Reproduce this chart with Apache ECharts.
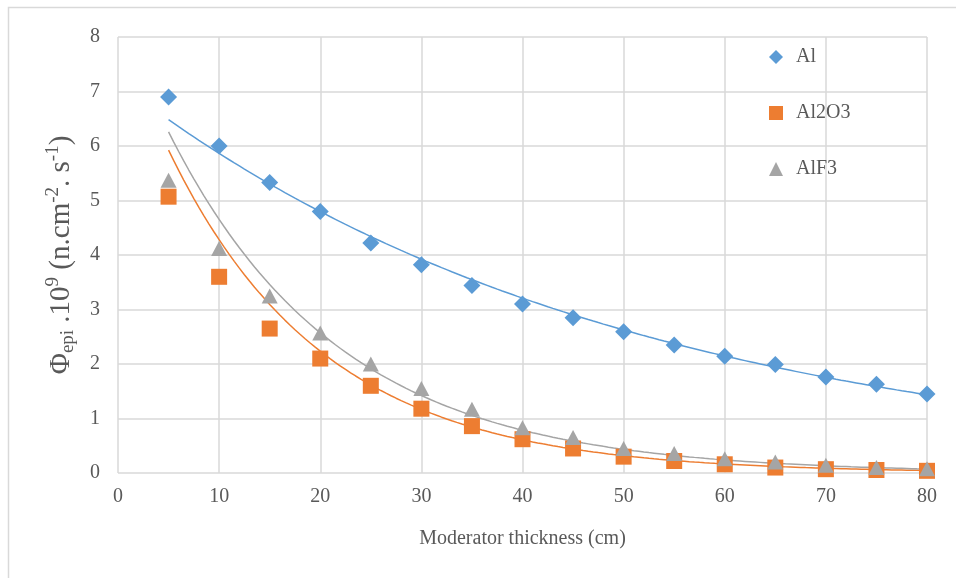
<!DOCTYPE html>
<html>
<head>
<meta charset="utf-8">
<script src="https://cdn.jsdelivr.net/npm/echarts@6/dist/echarts.min.js"></script>
<style>
html,body{margin:0;padding:0;background:#fff;}
#c{width:956px;height:578px;}
</style>
</head>
<body>
<div id="c"></div>
<script>
// ---- data ----
var thickness = [5, 10, 15, 20, 25, 30, 35, 40, 45, 50, 55, 60, 65, 70, 75, 80];
var fluxAl    = [6.9, 6.0, 5.33, 4.8, 4.22, 3.82, 3.44, 3.1, 2.85, 2.59, 2.35, 2.14, 1.99, 1.76, 1.63, 1.45];
var fluxAl2O3 = [5.07, 3.6, 2.65, 2.1, 1.6, 1.18, 0.86, 0.62, 0.45, 0.3, 0.22, 0.16, 0.1, 0.07, 0.055, 0.04];
var fluxAlF3  = [5.37, 4.12, 3.25, 2.57, 2.0, 1.55, 1.17, 0.83, 0.65, 0.45, 0.36, 0.26, 0.2, 0.14, 0.1, 0.08];
var seriesNames = ['Al', 'Al2O3', 'AlF3'];
// exponential trendlines y = A * exp(B * x), coefficients
var trendA = [7.17, 8.2, 8.42];
var trendB = [-0.0201, -0.065, -0.0593];
var xTicks = [0, 10, 20, 30, 40, 50, 60, 70, 80];
var yTicks = [0, 1, 2, 3, 4, 5, 6, 7, 8];

function expTrend(xs, A, B) {
  var pts = [], x0 = xs[0], x1 = xs[xs.length - 1];
  for (var k = 0; k <= 150; k++) {
    var x = x0 + (x1 - x0) * k / 150;
    pts.push([x, A * Math.exp(B * x)]);
  }
  return pts;
}
function pairs(xs, ys) { return xs.map(function (x, i) { return [x, ys[i]]; }); }

var colors = ['#5B9BD5', '#ED7D31', '#A5A5A5'];
var FONT = '"Liberation Serif", "Times New Roman", serif';
var TXT = '#595959';
var GRID = '#D9D9D9';

var chart = echarts.init(document.getElementById('c'), null, {renderer: 'canvas'});
chart.setOption({
  backgroundColor: '#fff',
  animation: false,
  graphic: [{
    type: 'rect', silent: true, z: -10,
    shape: {x: 8.5, y: 7.5, width: 1000, height: 700},
    style: {fill: 'none', stroke: GRID, lineWidth: 1.5}
  }],
  grid: {left: 118, right: 29, top: 37, bottom: 105, containLabel: false},
  legend: {
    data: [
      {name: seriesNames[0], icon: 'diamond'},
      {name: seriesNames[1], icon: 'rect'},
      {name: seriesNames[2], icon: 'triangle'}
    ],
    orient: 'vertical',
    left: 764, top: 42,
    itemWidth: 14, itemHeight: 14,
    itemGap: 36,
    textStyle: {fontFamily: FONT, fontSize: 20, color: TXT, padding: [0, 0, 0, 8]}
  },
  xAxis: {
    type: 'value', min: 0, max: 80, interval: 10,
    name: 'Moderator thickness (cm)',
    nameLocation: 'middle', nameGap: 56,
    nameTextStyle: {fontFamily: FONT, fontSize: 20, color: TXT},
    axisLine: {show: false}, axisTick: {show: false},
    axisLabel: {fontFamily: FONT, fontSize: 20, color: TXT, margin: 14,
      formatter: function (v) { return xTicks.indexOf(v) >= 0 ? String(v) : ''; }},
    splitLine: {show: true, lineStyle: {color: GRID, width: 1.5}}
  },
  yAxis: {
    type: 'value', min: 0, max: 8, interval: 1,
    name: '{m|Φ}{sub|epi}{m| .10}{sup|9}{m| (n.cm}{sup|-2}{m|. s}{sup|-1}{m|)}',
    nameLocation: 'middle', nameGap: 40, nameRotate: 90,
    nameTextStyle: {
      fontFamily: FONT, color: TXT,
      rich: {
        m: {fontFamily: FONT, fontSize: 29, color: TXT, verticalAlign: 'middle'},
        sub: {fontFamily: FONT, fontSize: 19, color: TXT, padding: [15, 0, 0, 0]},
        sup: {fontFamily: FONT, fontSize: 19, color: TXT, padding: [0, 0, 15, 0]}
      }
    },
    axisLine: {show: false}, axisTick: {show: false},
    axisLabel: {fontFamily: FONT, fontSize: 20, color: TXT, margin: 18,
      formatter: function (v) { return yTicks.indexOf(v) >= 0 ? String(v) : ''; }},
    splitLine: {show: true, lineStyle: {color: GRID, width: 1.5}}
  },
  series: [
    {name: 'trendAl', type: 'line', data: expTrend(thickness, trendA[0], trendB[0]), showSymbol: false, symbol: 'none',
     lineStyle: {color: colors[0], width: 1.5}, z: 2, silent: true},
    {name: 'trendAl2O3', type: 'line', data: expTrend(thickness, trendA[1], trendB[1]), showSymbol: false, symbol: 'none',
     lineStyle: {color: colors[1], width: 1.5}, z: 2, silent: true},
    {name: 'trendAlF3', type: 'line', data: expTrend(thickness, trendA[2], trendB[2]), showSymbol: false, symbol: 'none',
     lineStyle: {color: colors[2], width: 1.5}, z: 2, silent: true},
    {name: seriesNames[0], type: 'scatter', data: pairs(thickness, fluxAl), symbol: 'diamond', symbolSize: [17, 17],
     itemStyle: {color: colors[0], opacity: 1}, z: 5},
    {name: seriesNames[1], type: 'scatter', data: pairs(thickness, fluxAl2O3), symbol: 'rect', symbolSize: [16, 16],
     itemStyle: {color: colors[1], opacity: 1}, z: 4},
    {name: seriesNames[2], type: 'scatter', data: pairs(thickness, fluxAlF3), symbol: 'triangle', symbolSize: [16, 15],
     itemStyle: {color: colors[2], opacity: 1}, z: 6}
  ]
});
</script>
</body>
</html>
